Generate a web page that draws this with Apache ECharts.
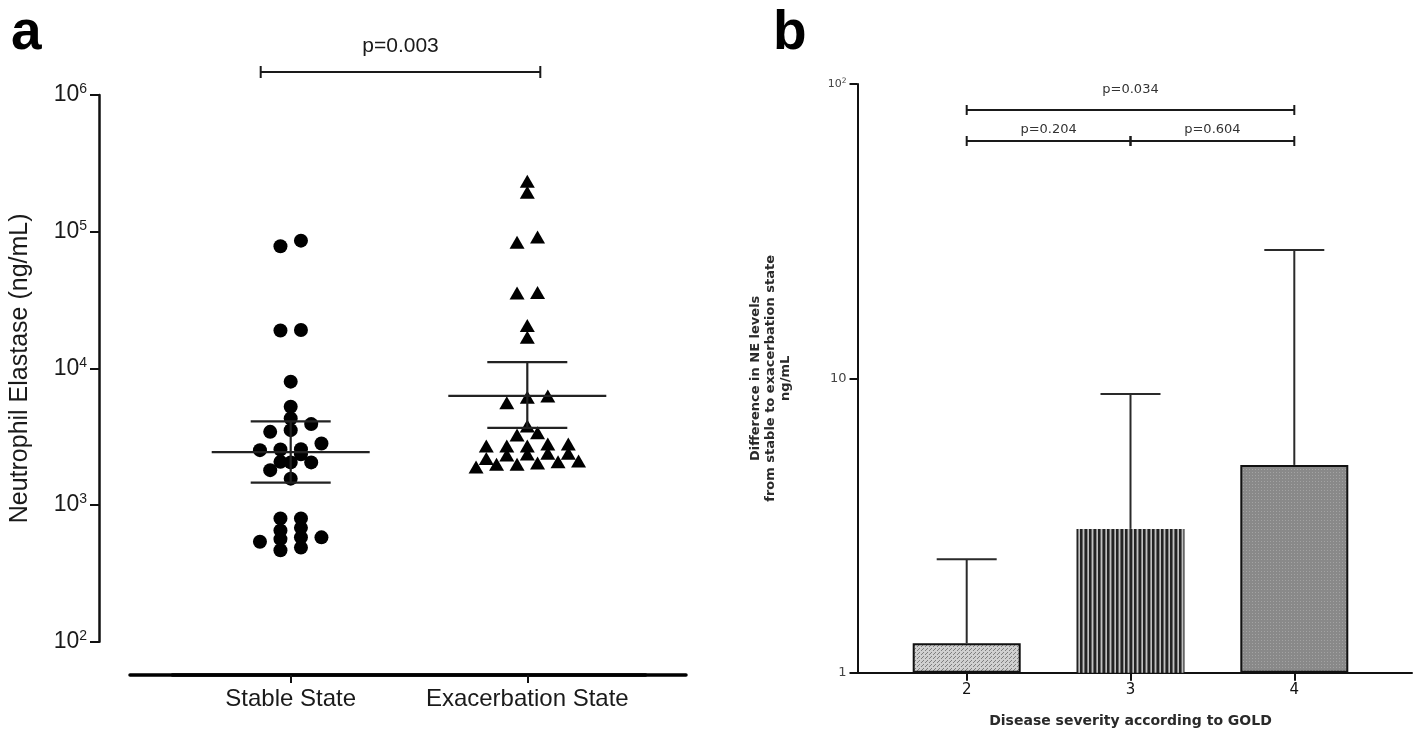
<!DOCTYPE html>
<html><head><meta charset="utf-8">
<script src="https://cdn.jsdelivr.net/npm/echarts@6/dist/echarts.min.js"></script>
<style>html,body{margin:0;padding:0;background:#fff}#c{width:1418px;height:743px}</style>
</head><body><div id="c"></div>
<script>
// ---------- Panel a data ----------
const groupsA = ['Stable State', 'Exacerbation State'];
const stableValues = [467, 488, 539, 563, 580, 580, 652, 681, 798, 798, 1560, 1800, 2050, 2050, 2070, 2350, 2520, 2550, 2560, 2820, 3430, 3530, 3910, 4300, 5240, 7990, 18900, 19100, 78200, 86000];
const exacerbationValues = [1900, 1990, 1990, 2030, 2070, 2100, 2190, 2320, 2360, 2390, 2390, 2700, 2700, 2700, 2790, 2790, 3250, 3380, 3780, 5600, 6140, 6280, 16900, 20600, 35600, 35900, 83600, 91600, 194500, 234000];
const centerA = [2440, 6280];
const errLowA = [1460, 3670];
const errHighA = [4090, 11090];
const pValueA = 'p=0.003';

// ---------- Panel b data ----------
const goldStages = ['2', '3', '4'];
const diffMeans = [1.26, 3.08, 5.08];
const diffUpper = [2.43, 8.85, 27.3];
const bracketFrom = [0, 0, 1];
const bracketTo = [2, 1, 2];
const bracketLevel = [0, 1, 1];
const bracketText = ['p=0.034', 'p=0.204', 'p=0.604'];

// ---------- style constants ----------
const FA = '"Liberation Sans", Arial, sans-serif';
const FB = '"DejaVu Sans", Verdana, sans-serif';
const ROW_TOL = 8, STEP = 20.5;

function pattern(w, h, draw) {
  const c = document.createElement('canvas'); c.width = w; c.height = h;
  const g = c.getContext('2d'); draw(g); return {image: c, repeat: 'repeat'};
}
const pat2 = pattern(4, 4, g => {
  g.fillStyle = '#d0d0d0'; g.fillRect(0, 0, 4, 4);
  g.fillStyle = '#7e7e7e'; g.fillRect(3, 0, 1, 1); g.fillRect(2, 1, 1, 1); g.fillRect(1, 2, 1, 1);
});
const pat3 = pattern(9, 4, g => {
  const cols = ['#222222', '#222222', '#666666', '#c0c0c0', '#666666', '#222222', '#222222', '#888888', '#c0c0c0'];
  cols.forEach((col, i) => { g.fillStyle = col; g.fillRect(i, 0, 1, 4); });
});
const pat4 = pattern(3, 3, g => {
  g.fillStyle = '#898989'; g.fillRect(0, 0, 3, 3);
  g.fillStyle = '#a3a3a3'; g.fillRect(1, 1, 1, 1);
});
const barPatterns = [pat2, pat3, pat4];
const barBorders = [2, 0, 2];

const chart = echarts.init(document.getElementById('c'));

const lineStyle = {stroke: '#222', lineWidth: 2.2};

const option = {
  animation: false,
  backgroundColor: '#ffffff',
  title: [
    {text: 'a', left: 11, top: 6, padding: 0, textStyle: {fontSize: 55, fontWeight: 'bold', color: '#000', fontFamily: FA}},
    {text: 'b', left: 773, top: 6, padding: 0, textStyle: {fontSize: 55, fontWeight: 'bold', color: '#000', fontFamily: FA}}
  ],
  grid: [
    {left: 172.4, top: 95, width: 473.2, height: 546.7},
    {left: 130, top: 95, width: 556, height: 546.7},
    {left: 884.8, top: 84, width: 491.4, height: 588.7},
    {left: 857.5, top: 84, width: 554.5, height: 588.7}
  ],
  xAxis: [
    {type: 'category', gridIndex: 0, data: groupsA, offset: 33.3,
     axisLine: {show: true, onZero: false, lineStyle: {color: '#000', width: 3.5}},
     axisTick: {show: true, alignWithLabel: true, length: 8, lineStyle: {color: '#111', width: 2}},
     axisLabel: {show: true, interval: 0, fontSize: 24, color: '#1a1a1a', fontFamily: FA, margin: 12},
     splitLine: {show: false}},
    {type: 'value', gridIndex: 1, min: 0, max: 1, offset: 33.3,
     axisLine: {show: true, onZero: false, lineStyle: {color: '#000', width: 3.5}},
     axisTick: {show: false}, axisLabel: {show: false}, splitLine: {show: false}},
    {type: 'category', gridIndex: 2, data: goldStages,
     axisLine: {show: true, onZero: false, lineStyle: {color: '#111', width: 2}},
     axisTick: {show: true, alignWithLabel: true, length: 8, lineStyle: {color: '#111', width: 2}},
     axisLabel: {show: true, interval: 0, fontSize: 15, color: '#111', fontFamily: FB, margin: 10},
     name: 'Disease severity according to GOLD', nameLocation: 'middle', nameGap: 42,
     nameTextStyle: {fontSize: 14, fontWeight: 'bold', color: '#2a2a2a', fontFamily: FB},
     splitLine: {show: false}},
    {type: 'value', gridIndex: 3, min: 0, max: 1,
     axisLine: {show: true, onZero: false, lineStyle: {color: '#111', width: 2}},
     axisTick: {show: false}, axisLabel: {show: false}, splitLine: {show: false}}
  ],
  yAxis: [
    {type: 'log', gridIndex: 0, min: 100, max: 1000000, logBase: 10, offset: 73.4,
     axisLine: {show: true, lineStyle: {color: '#111', width: 2.5}},
     axisTick: {show: true, length: 9, lineStyle: {color: '#111', width: 2}},
     axisLabel: {margin: 12, color: '#1a1a1a', fontFamily: FA,
       formatter: v => '{n|10}{s|' + Math.round(Math.log10(v)) + '}',
       rich: {n: {fontSize: 23, fontFamily: FA, color: '#1a1a1a', lineHeight: 25},
              s: {fontSize: 14, fontFamily: FA, color: '#1a1a1a', lineHeight: 14, verticalAlign: 'top'}}},
     splitLine: {show: false},
     name: 'Neutrophil Elastase (ng/mL)', nameLocation: 'middle', nameGap: 66,
     nameTextStyle: {fontSize: 25, color: '#1a1a1a', fontFamily: FA}},
    {type: 'value', gridIndex: 1, show: false, min: 0, max: 1},
    {type: 'log', gridIndex: 2, min: 1, max: 100, logBase: 10, offset: 27.3,
     axisLine: {show: true, lineStyle: {color: '#111', width: 2}},
     axisTick: {show: true, length: 8, lineStyle: {color: '#111', width: 2}},
     axisLabel: {margin: 11, color: '#444', fontFamily: FB,
       formatter: v => { const e = Math.round(Math.log10(v)); return e === 0 ? '{n|1}' : (e === 1 ? '{n|10}' : '{m|10}{s|' + e + '}'); },
       rich: {n: {fontSize: 13, fontFamily: FB, color: '#444', lineHeight: 14},
              m: {fontSize: 11, fontFamily: FB, color: '#444', lineHeight: 13},
              s: {fontSize: 7.5, fontFamily: FB, color: '#444', lineHeight: 8, verticalAlign: 'top'}}},
     splitLine: {show: false},
     name: 'Difference in NE levels\nfrom stable to exacerbation state\nng/mL', nameLocation: 'middle', nameGap: 64,
     nameTextStyle: {fontSize: 13, fontWeight: 'bold', lineHeight: 15, color: '#2a2a2a', fontFamily: FB, align: 'center'}},
    {type: 'value', gridIndex: 3, show: false, min: 0, max: 1}
  ],
  series: [
    {id: 'stable', type: 'scatter', xAxisIndex: 0, yAxisIndex: 0, symbol: 'circle', symbolSize: 14,
     itemStyle: {color: '#000', opacity: 1}, data: stableValues.map(v => [0, v]), z: 3},
    {id: 'exac', type: 'scatter', xAxisIndex: 0, yAxisIndex: 0, symbol: 'triangle', symbolSize: [15, 13],
     itemStyle: {color: '#000', opacity: 1}, data: exacerbationValues.map(v => [1, v]), z: 3},
    {type: 'custom', xAxisIndex: 0, yAxisIndex: 0, z: 4,
     data: groupsA.map((g, i) => [i, centerA[i], errLowA[i], errHighA[i]]),
     encode: {x: 0, y: [1, 2, 3]},
     renderItem: (params, api) => {
       const c = api.value(0);
       const pm = api.coord([c, api.value(1)]);
       const pl = api.coord([c, api.value(2)]);
       const ph = api.coord([c, api.value(3)]);
       const W = 79, C = 40;
       return {type: 'group', children: [
         {type: 'line', shape: {x1: pm[0] - W, y1: pm[1], x2: pm[0] + W, y2: pm[1]}, style: lineStyle},
         {type: 'line', shape: {x1: pl[0] - C, y1: pl[1], x2: pl[0] + C, y2: pl[1]}, style: lineStyle},
         {type: 'line', shape: {x1: ph[0] - C, y1: ph[1], x2: ph[0] + C, y2: ph[1]}, style: lineStyle},
         {type: 'line', shape: {x1: pl[0], y1: pl[1], x2: ph[0], y2: ph[1]}, style: lineStyle}
       ]};
     }},
    {type: 'custom', xAxisIndex: 0, yAxisIndex: 0, z: 4, silent: true,
     data: [[0, 1, 1000]], encode: {x: [0, 1]},
     renderItem: (params, api) => {
       const a = api.coord([api.value(0), api.value(2)]);
       const b = api.coord([api.value(1), api.value(2)]);
       const y = 72, x1 = a[0] - 30, x2 = b[0] + 13;
       const st = {stroke: '#1a1a1a', lineWidth: 2};
       return {type: 'group', children: [
         {type: 'line', shape: {x1: x1, y1: y, x2: x2, y2: y}, style: st},
         {type: 'line', shape: {x1: x1, y1: y - 6, x2: x1, y2: y + 6}, style: st},
         {type: 'line', shape: {x1: x2, y1: y - 6, x2: x2, y2: y + 6}, style: st},
         {type: 'text', style: {text: pValueA, x: (x1 + x2) / 2, y: y - 26, align: 'center', verticalAlign: 'middle',
           fill: '#1a1a1a', font: '21px ' + FA}}
       ]};
     }},
    {type: 'bar', xAxisIndex: 2, yAxisIndex: 2, barWidth: 108, z: 2,
     data: diffMeans.map((v, i) => ({value: v, itemStyle: {color: barPatterns[i], borderColor: '#111', borderWidth: barBorders[i]}}))},
    {type: 'custom', xAxisIndex: 2, yAxisIndex: 2, z: 3,
     data: goldStages.map((g, i) => [i, diffMeans[i], diffUpper[i]]),
     encode: {x: 0, y: [1, 2]},
     renderItem: (params, api) => {
       const c = api.value(0);
       const p0 = api.coord([c, api.value(1)]);
       const p1 = api.coord([c, api.value(2)]);
       const C = 30;
       const st = {stroke: '#2a2a2a', lineWidth: 2};
       return {type: 'group', children: [
         {type: 'line', shape: {x1: p0[0], y1: p0[1], x2: p1[0], y2: p1[1]}, style: st},
         {type: 'line', shape: {x1: p1[0] - C, y1: p1[1], x2: p1[0] + C, y2: p1[1]}, style: st}
       ]};
     }},
    {type: 'custom', xAxisIndex: 2, yAxisIndex: 2, z: 3, silent: true,
     data: bracketText.map((t, i) => [bracketFrom[i], bracketTo[i], bracketLevel[i], 2]),
     encode: {x: [0, 1]},
     renderItem: (params, api) => {
       const i = params.dataIndex;
       const a = api.coord([api.value(0), api.value(3)]);
       const b = api.coord([api.value(1), api.value(3)]);
       const lv = api.value(2);
       const y = [110, 141][lv], ty = [90, 130][lv];
       const st = {stroke: '#1a1a1a', lineWidth: 2};
       return {type: 'group', children: [
         {type: 'line', shape: {x1: a[0], y1: y, x2: b[0], y2: y}, style: st},
         {type: 'line', shape: {x1: a[0], y1: y - 5, x2: a[0], y2: y + 5}, style: st},
         {type: 'line', shape: {x1: b[0], y1: y - 5, x2: b[0], y2: y + 5}, style: st},
         {type: 'text', style: {text: bracketText[i], x: (a[0] + b[0]) / 2, y: ty, align: 'center', verticalAlign: 'middle',
           fill: '#333', font: '13px ' + FB}}
       ]};
     }}
  ]
};
chart.setOption(option);

// Beeswarm arrangement: group points into rows by their pixel height (via the axis scale), spread symmetrically
function swarm(values, cat) {
  const py = values.map(v => chart.convertToPixel({gridIndex: 0}, [cat, v])[1]);
  const order = values.map((v, i) => i).sort((a, b) => values[a] - values[b]);
  const rows = []; let cur = null;
  order.forEach(i => {
    if (!cur || Math.abs(py[i] - cur.y0) > ROW_TOL) { cur = {y0: py[i], idx: []}; rows.push(cur); }
    cur.idx.push(i);
  });
  const off = new Array(values.length).fill(0);
  rows.forEach(r => { const n = r.idx.length; r.idx.forEach((i, k) => { off[i] = (k - (n - 1) / 2) * STEP; }); });
  return values.map((v, i) => ({value: [cat, v], symbolOffset: [off[i], 0]}));
}
chart.setOption({series: [
  {id: 'stable', data: swarm(stableValues, 0)},
  {id: 'exac', data: swarm(exacerbationValues, 1)}
]});
</script>
</body></html>
